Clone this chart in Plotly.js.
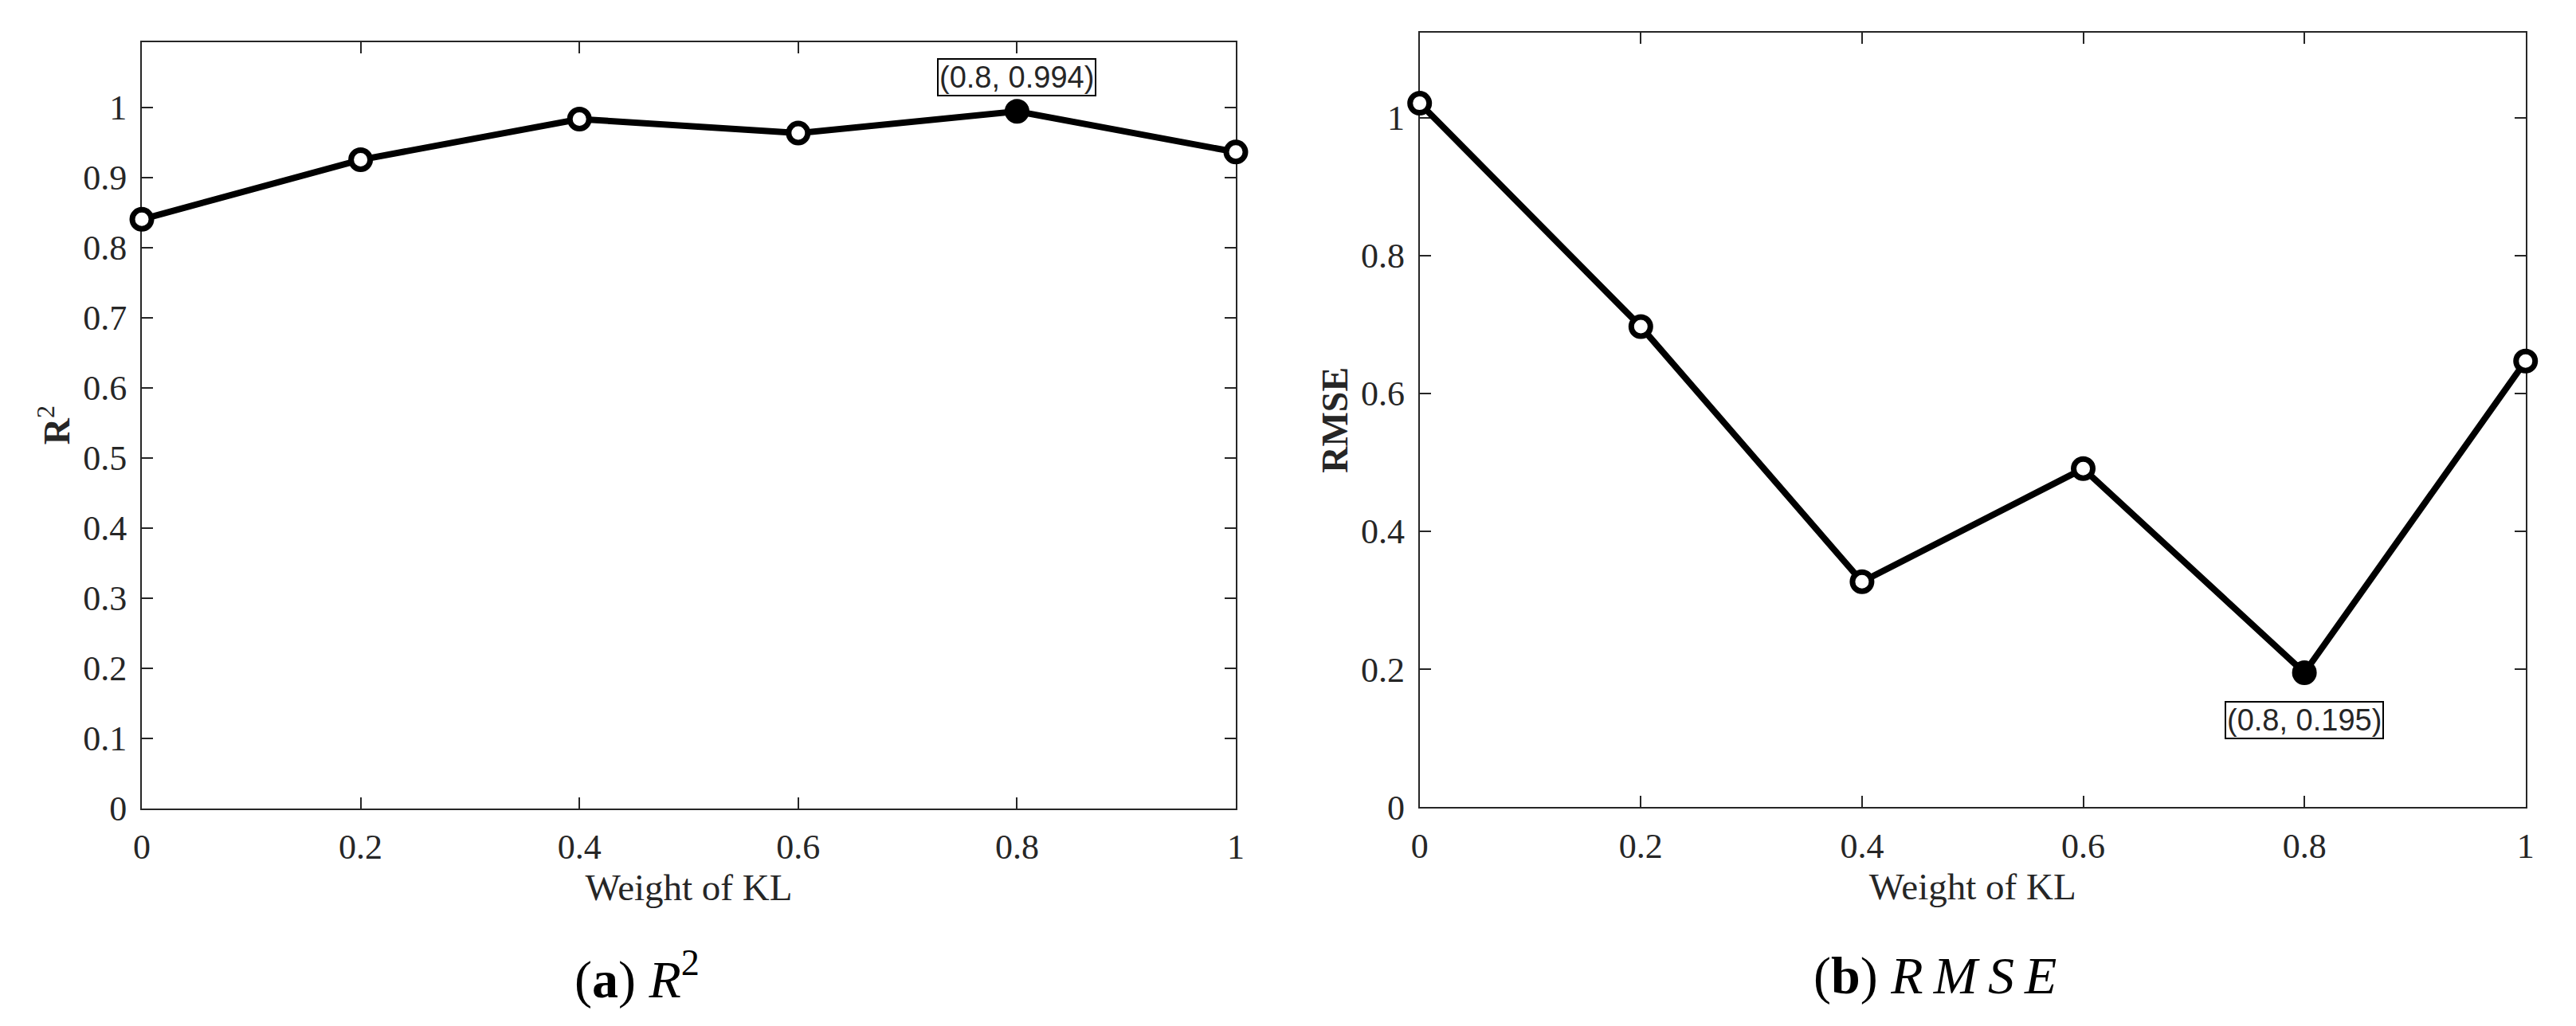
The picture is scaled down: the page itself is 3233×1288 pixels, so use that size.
<!DOCTYPE html>
<html>
<head>
<meta charset="utf-8">
<script src="https://cdn.plot.ly/plotly-3.0.1.min.js"></script>
<style>html,body{margin:0;padding:0;background:#fff;}#chart{width:3233px;height:1288px;}</style>
</head>
<body>
<div id="chart"></div>
<script>
// ---- data ----
const weights = [0, 0.2, 0.4, 0.6, 0.8, 1];
const r2Values = [0.840, 0.925, 0.983, 0.963, 0.994, 0.936];
const rmseValues = [1.021, 0.697, 0.327, 0.491, 0.195, 0.647];
const xTickVals = [0, 0.2, 0.4, 0.6, 0.8, 1];
const xTickText = ['0', '0.2', '0.4', '0.6', '0.8', '1'];
const r2TickVals = [0, 0.1, 0.2, 0.3, 0.4, 0.5, 0.6, 0.7, 0.8, 0.9, 1];
const r2TickText = ['0', '0.1', '0.2', '0.3', '0.4', '0.5', '0.6', '0.7', '0.8', '0.9', '1'];
const rmseTickVals = [0, 0.2, 0.4, 0.6, 0.8, 1];
const rmseTickText = ['0', '0.2', '0.4', '0.6', '0.8', '1'];
const xTitle = 'Weight of KL';
const r2Title = '<b>R</b><sup>2</sup>';
const rmseTitle = '<b>RMSE</b>';
const captionA = '(<b>a</b>) <i>R</i><sup>2</sup>';
const captionB = '(<b>b</b>) <i>R\u2009M\u2009S\u2009E</i>';

// ---- helpers ----
const r2Best = r2Values.indexOf(Math.max(...r2Values));
const rmseBest = rmseValues.indexOf(Math.min(...rmseValues));
const fillColors = (best) => weights.map((_, i) => i === best ? '#000000' : '#ffffff');

const SERIF = 'Liberation Serif';
const SANS = 'Liberation Sans';
const axisCol = '#262626';
const tickFont = {family: SERIF, size: 44, color: axisCol};
const titleFont = {family: SERIF, size: 47, color: axisCol};

function lineTrace(y, best, xa, ya) {
  return {
    x: weights, y: y, xaxis: xa, yaxis: ya, type: 'scatter', mode: 'lines+markers',
    line: {color: '#000000', width: 8},
    marker: {symbol: 'circle', size: 24, color: fillColors(best), line: {color: '#000000', width: 7}},
    cliponaxis: false, showlegend: false, hoverinfo: 'x+y'
  };
}

function xAxis(domain) {
  return {
    domain: domain, range: [0, 1], tickmode: 'array', tickvals: xTickVals, ticktext: xTickText,
    ticks: 'inside', ticklen: 14, tickwidth: 2, tickcolor: axisCol, mirror: 'allticks',
    showline: true, linecolor: axisCol, linewidth: 2, showgrid: false, zeroline: false,
    tickfont: tickFont, ticklabelstandoff: 9, layer: 'below traces',
    title: {text: xTitle, font: titleFont, standoff: 0}
  };
}
function yAxis(domain, range, vals, text, title, anchor) {
  return {
    domain: domain, range: range, anchor: anchor, tickmode: 'array', tickvals: vals, ticktext: text,
    ticks: 'inside', ticklen: 14, tickwidth: 2, tickcolor: axisCol, mirror: 'allticks',
    showline: true, linecolor: axisCol, linewidth: 2, showgrid: false, zeroline: false,
    tickfont: tickFont, ticklabelstandoff: 8, layer: 'below traces',
    title: {text: title, font: {family: SERIF, size: 46, color: axisCol}, standoff: 2}
  };
}

const data = [
  lineTrace(r2Values, r2Best, 'x', 'y'),
  lineTrace(rmseValues, rmseBest, 'x2', 'y2')
];

const annFont = {family: SANS, size: 38, color: axisCol};
const captionFont = {family: SERIF, size: 66, color: '#000000'};
const layout = {
  width: 3233, height: 1288,
  margin: {l: 0, r: 0, t: 0, b: 0},
  paper_bgcolor: '#ffffff', plot_bgcolor: '#ffffff',
  font: {family: SERIF, color: axisCol},
  showlegend: false,
  xaxis: Object.assign(xAxis([0.05506, 0.47974]), {anchor: 'y'}),
  yaxis: yAxis([0.2122, 0.9591], [0, 1.093], r2TickVals, r2TickText, r2Title, 'x'),
  xaxis2: Object.assign(xAxis([0.5511, 0.98043]), {anchor: 'y2'}),
  yaxis2: yAxis([0.2133, 0.9679], [0, 1.123], rmseTickVals, rmseTickText, rmseTitle, 'x2'),
  annotations: [
    {xref: 'x', yref: 'y', x: weights[r2Best], y: r2Values[r2Best], showarrow: false,
     text: '(' + weights[r2Best] + ', ' + r2Values[r2Best] + ')', font: annFont,
     yanchor: 'bottom', yshift: 19, bgcolor: '#ffffff', bordercolor: '#000000', borderwidth: 2, borderpad: 1},
    {xref: 'x2', yref: 'y2', x: weights[rmseBest], y: rmseValues[rmseBest], showarrow: false,
     text: '(' + weights[rmseBest] + ', ' + rmseValues[rmseBest] + ')', font: annFont,
     yanchor: 'top', yshift: -35, bgcolor: '#ffffff', bordercolor: '#000000', borderwidth: 2, borderpad: 1},
    {xref: 'paper', yref: 'paper', x: 799 / 3233, y: 0.0489, xanchor: 'center', yanchor: 'middle', showarrow: false,
     text: captionA, font: captionFont},
    {xref: 'paper', yref: 'paper', x: 2428 / 3233, y: 0.0489, xanchor: 'center', yanchor: 'middle', showarrow: false,
     text: captionB, font: captionFont}
  ]
};

Plotly.newPlot('chart', data, layout, {displayModeBar: false, staticPlot: true});
</script>
</body>
</html>
